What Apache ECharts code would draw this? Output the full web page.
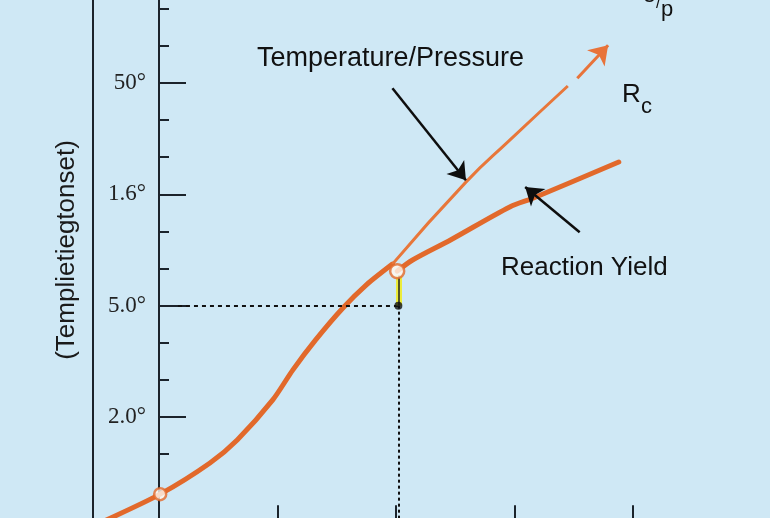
<!DOCTYPE html>
<html>
<head>
<meta charset="utf-8">
<script src="https://cdn.jsdelivr.net/npm/echarts@6/dist/echarts.min.js"></script>
<style>
html,body{margin:0;padding:0;background:#cfe8f5;}
#chart{width:770px;height:518px;}
</style>
</head>
<body>
<div id="chart"></div>
<script>
// ---- data ----
const xTicks = [0, 1, 2, 3, 4];
const yTickValues = [3, 6, 9, 12];
const yTickLabels = ['2.0°', '5.0°', '1.6°', '50°'];
const yAxisTitle = '(Templietiegtonset)';

// Temperature/Pressure curve (thick lower part, thin upper part, arrow tip)
const tempLower = [[-0.46,0.20],[0.01,0.92],[0.43,1.76],[0.66,2.38],[0.96,3.46],[1.13,4.27],[1.32,5.07],[1.55,5.93],[1.75,6.56],[1.97,7.12]];
const tempUpper = [[1.97,7.12],[2.59,9.33],[2.96,10.46],[3.45,11.92]];
const tempArrow = [[3.53,12.13],[3.79,13.02]];
// Reaction Yield curve
const yieldCurve = [[2.01,6.93],[2.14,7.23],[2.46,7.77],[2.96,8.66],[3.16,8.90],[3.88,9.87]];
// highlighted points
const keyPoints = [[0.01,0.92],[2.01,6.93]];
const readoutPoint = [2.02, 6.0];
const readoutStartX = 0.16;
// annotation arrows [from, to]
const arrowTemp = [[1.97,11.86],[2.59,9.38]];
const arrowYield = [[3.55,7.98],[3.09,9.20]];

const ORANGE = '#e2692b';
const DARK = '#1b232b';

const chart = echarts.init(document.getElementById('chart'), null, {renderer: 'canvas'});

const option = {
  backgroundColor: '#cfe8f5',
  animation: false,
  grid: {left: 40.5, right: 18.5, top: -28.3, bottom: -10.3, containLabel: false, outerBoundsMode: 'none'},
  xAxis: {
    type: 'value', min: -1, max: 5, interval: 1,
    axisLine: {show: false, onZero: false},
    splitLine: {show: false},
    axisLabel: {show: false},
    axisTick: {show: true, inside: true, length: 23, customValues: xTicks, lineStyle: {color: DARK, width: 2}}
  },
  yAxis: [{
    type: 'value', min: 0, max: 15, interval: 3,
    position: 'left', offset: -118.5,
    axisLine: {show: true, onZero: false, lineStyle: {color: DARK, width: 2}},
    splitLine: {show: false},
    axisTick: {show: true, inside: true, length: 27, lineStyle: {color: DARK, width: 2}},
    minorTick: {show: true, splitNumber: 3, length: 10, lineStyle: {color: DARK, width: 2}},
    axisLabel: {
      show: true, margin: 13, color: '#222',
      fontFamily: 'Liberation Serif', fontSize: 23,
      formatter: function (v) {
        const i = yTickValues.indexOf(v);
        return i >= 0 ? yTickLabels[i] : '';
      }
    }
  }, {
    type: 'value', min: 0, max: 15, interval: 3,
    position: 'left', offset: -52.5,
    axisLine: {show: true, onZero: false, lineStyle: {color: DARK, width: 2}},
    axisTick: {show: false}, axisLabel: {show: false}, splitLine: {show: false},
    name: yAxisTitle, nameLocation: 'middle', nameGap: 13, nameRotate: 90,
    nameTextStyle: {fontFamily: 'Liberation Sans', fontSize: 26, color: '#1a1a1a'}
  }],
  series: [
    {
      name: 'readout lines', type: 'line', data: [], z: 3,
      markLine: {
        silent: true, symbol: ['none', 'none'], label: {show: false},
        emphasis: {disabled: true},
        data: [
          [{coord: [readoutStartX, readoutPoint[1]], lineStyle: {color: '#111', width: 2, type: [4, 4]}}, {coord: readoutPoint}],
          [{coord: readoutPoint, lineStyle: {color: '#111', width: 2, type: [3, 3]}}, {coord: [readoutPoint[0], 0]}],
          [{coord: readoutPoint, lineStyle: {color: '#ecec3a', width: 6, type: 'solid'}}, {coord: [readoutPoint[0], keyPoints[1][1] - 0.12]}],
          [{coord: readoutPoint, lineStyle: {color: '#222', width: 1.5, type: 'solid'}}, {coord: [readoutPoint[0], keyPoints[1][1] - 0.12]}]
        ]
      }
    },
    {
      name: 'Temperature/Pressure', type: 'line', data: tempLower, smooth: 0.25, clip: false,
      showSymbol: false, z: 4,
      lineStyle: {color: ORANGE, width: 5, cap: 'round'}
    },
    {
      name: 'Temperature/Pressure upper', type: 'line', data: tempUpper, smooth: 0.5, clip: false,
      showSymbol: false, z: 4,
      lineStyle: {color: '#e8773a', width: 3},
      markLine: {
        silent: true, symbol: ['none', 'arrow'], symbolSize: 18, label: {show: false},
        emphasis: {disabled: true},
        lineStyle: {color: '#e8733a', width: 3, type: 'solid'},
        data: [[{coord: tempArrow[0]}, {coord: tempArrow[1]}]]
      }
    },
    {
      name: 'Reaction Yield', type: 'line', data: yieldCurve, smooth: 0.3, clip: false,
      showSymbol: false, z: 4,
      lineStyle: {color: ORANGE, width: 5, cap: 'round'}
    },
    {
      name: 'annotations', type: 'line', data: [], z: 6,
      markLine: {
        silent: true, symbol: ['none', 'arrow'], symbolSize: 17, label: {show: false},
        emphasis: {disabled: true},
        lineStyle: {color: '#0e0e0e', width: 2.5, type: 'solid'},
        data: [
          [{coord: arrowTemp[0]}, {coord: arrowTemp[1]}],
          [{coord: arrowYield[0]}, {coord: arrowYield[1]}]
        ]
      }
    },
    {
      name: 'readout', type: 'scatter', data: [readoutPoint], z: 8,
      symbol: 'circle', symbolSize: 8, itemStyle: {color: '#111'}, silent: true
    },
    {
      name: 'key points', type: 'scatter', data: keyPoints, z: 7,
      symbol: 'circle', symbolSize: function (v, p) { return p.dataIndex === 0 ? 12 : 14; },
      itemStyle: {color: '#fff8f0', borderColor: ORANGE, borderWidth: 2.5}
    }
  ],
  graphic: [
    {type: 'text', left: 257, top: 45, z: 10, style: {text: 'Temperature/Pressure', font: '27px "Liberation Sans"', fill: '#111'}},
    {type: 'text', left: 501, top: 255, z: 10, style: {text: 'Reaction Yield', font: '26px "Liberation Sans"', fill: '#111'}},
    {type: 'text', left: 622, top: 82, z: 10, style: {text: 'R', font: '26px "Liberation Sans"', fill: '#111'}},
    {type: 'text', left: 641, top: 96, z: 10, style: {text: 'c', font: '22px "Liberation Sans"', fill: '#111'}},
    {type: 'text', left: 644, top: -15, z: 10, style: {text: 's', font: '22px "Liberation Sans"', fill: '#111'}},
    {type: 'text', left: 656, top: -4, z: 10, style: {text: '/', font: '16px "Liberation Sans"', fill: '#111'}},
    {type: 'text', left: 661, top: -1, z: 10, style: {text: 'p', font: '22px "Liberation Sans"', fill: '#111'}}
  ]
};
chart.setOption(option);
</script>
</body>
</html>
